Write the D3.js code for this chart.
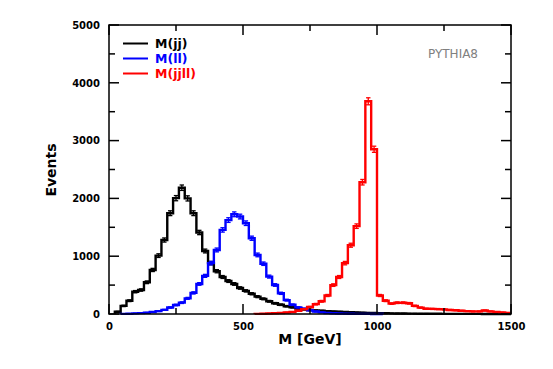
<!DOCTYPE html>
<html><head><meta charset="utf-8">
<script src="https://cdn.jsdelivr.net/npm/d3@7"></script>
<style>body{margin:0;background:#fff}text{font-family:"DejaVu Sans",sans-serif}</style>
</head><body><svg id="c" width="553" height="369"></svg>
<script>
const xMin = 0, xMax = 1500, nBins = 69;
const xTicks = [0, 500, 1000, 1500];
const yTicks = [0, 1000, 2000, 3000, 4000, 5000];
const seriesNames = ["M(jj)", "M(ll)", "M(jjll)"];
const seriesColors = ["#000000", "#0000ff", "#ff0000"];
const mjj = [0,40,140,230,386,415,549,762,1010,1280,1744,2004,2185,2000,1744,1410,1090,880,740,640,570,520,450,400,350,300,262,220,185,160,135,115,95,80,70,62,55,48,42,38,34,30,26,23,20,17,14,12,10,9,8,7,6,5,5,4,4,3,3,3,2,2,2,2,1,1,1,1,1];
const mll = [0,0,2,5,10,15,22,35,50,72,112,156,196,271,365,520,660,880,1108,1455,1625,1725,1686,1571,1311,1022,870,647,502,358,240,160,115,90,65,42,28,18,12,8,6,4,3,2,2,1,1,0,0,0,0,0,0,0,0,0,0,0,0,0,0,0,0,0,0,0,0,0,0];
const mjjll = [0,0,0,0,0,0,0,0,0,0,0,0,0,0,0,0,0,0,0,0,0,0,0,0,0,3,5,8,12,18,25,35,55,85,120,170,220,320,500,640,880,1190,1520,2280,3680,2850,320,230,180,195,195,185,140,110,90,88,85,80,70,65,55,50,45,45,60,45,35,25,20];
const seriesValues = [mjj, mll, mjjll];

const binW = (xMax - xMin) / nBins;
const L = 109, R = 511, T = 25, B = 314;
const svg = d3.select("#c");
const x = d3.scaleLinear().domain([xMin, xMax]).range([L, R]);
const y = d3.scaleLinear().domain([0, 5000]).range([B, T]);

// histograms
seriesValues.forEach((vals, si) => {
  let first = vals.findIndex(v => v > 0);
  let last = vals.length - 1;
  while (last > 0 && vals[last] === 0) last--;
  const pts = [[x(xMin + first * binW), y(0)]];
  for (let i = first; i <= last; i++) {
    pts.push([x(xMin + i * binW), y(vals[i])]);
    pts.push([x(xMin + (i + 1) * binW), y(vals[i])]);
  }
  if (last < vals.length - 1) pts.push([x(xMin + (last + 1) * binW), y(0)]);
  svg.append("path").attr("d", d3.line()(pts)).attr("fill", "none")
    .attr("stroke", seriesColors[si]).attr("stroke-width", 2.4).attr("stroke-linejoin", "miter");
  // error bars
  const g = svg.append("g").attr("stroke", seriesColors[si]).attr("stroke-width", 1.3);
  vals.forEach((v, i) => {
    if (v <= 0) return;
    const cx = x(xMin + (i + 0.5) * binW), e = Math.sqrt(v);
    const y1 = y(v + e), y2 = y(v - e);
    g.append("line").attr("x1", cx).attr("x2", cx).attr("y1", y1).attr("y2", y2);
    g.append("line").attr("x1", cx - 2.2).attr("x2", cx + 2.2).attr("y1", y1).attr("y2", y1);
    g.append("line").attr("x1", cx - 2.2).attr("x2", cx + 2.2).attr("y1", y2).attr("y2", y2);
  });
});

// frame and ticks
const ax = svg.append("g").attr("stroke", "#000").attr("stroke-width", 1.5);
ax.append("rect").attr("x", L).attr("y", T).attr("width", R - L).attr("height", B - T).attr("fill", "none");
d3.range(0, 1501, 250).forEach(v => {
  const len = v % 500 === 0 ? 10 : 6;
  ax.append("line").attr("x1", x(v)).attr("x2", x(v)).attr("y1", B).attr("y2", B - len);
  ax.append("line").attr("x1", x(v)).attr("x2", x(v)).attr("y1", T).attr("y2", T + len);
});
d3.range(0, 5001, 500).forEach(v => {
  const len = v % 1000 === 0 ? 10 : 6;
  ax.append("line").attr("x1", L).attr("x2", L + len).attr("y1", y(v)).attr("y2", y(v));
  ax.append("line").attr("x1", R).attr("x2", R - len).attr("y1", y(v)).attr("y2", y(v));
});
// tick labels via axes (no lines)
const xa = svg.append("g").attr("transform", `translate(0,${B})`)
  .call(d3.axisBottom(x).tickValues(xTicks).tickFormat(d3.format("d")).tickSize(0).tickPadding(9));
const ya = svg.append("g").attr("transform", `translate(${L},0)`)
  .call(d3.axisLeft(y).tickValues(yTicks).tickFormat(d3.format("d")).tickSize(0).tickPadding(9));
[xa, ya].forEach(a => {
  a.select(".domain").remove();
  a.selectAll("text").attr("font-family", "DejaVu Sans").attr("font-weight", "bold")
    .attr("font-size", 10).attr("fill", "#000");
});

svg.append("text").attr("x", (L + R) / 2).attr("y", 344).attr("text-anchor", "middle")
  .attr("font-weight", "bold").attr("font-size", 14).text("M [GeV]");
svg.append("text").attr("transform", "translate(56,170) rotate(-90)").attr("text-anchor", "middle")
  .attr("font-weight", "bold").attr("font-size", 14).text("Events");

// legend
seriesNames.forEach((n, i) => {
  const ly = 43.5 + i * 15;
  svg.append("line").attr("x1", 123).attr("x2", 148).attr("y1", ly).attr("y2", ly)
    .attr("stroke", seriesColors[i]).attr("stroke-width", 2);
  svg.append("text").attr("x", 155).attr("y", ly + 4.5).attr("font-weight", "bold")
    .attr("font-size", 12.5).attr("fill", seriesColors[i]).text(n);
});
svg.append("text").attr("x", 453).attr("y", 58).attr("text-anchor", "middle")
  .attr("font-size", 12).attr("fill", "#808080").text("PYTHIA8");
</script></body></html>
